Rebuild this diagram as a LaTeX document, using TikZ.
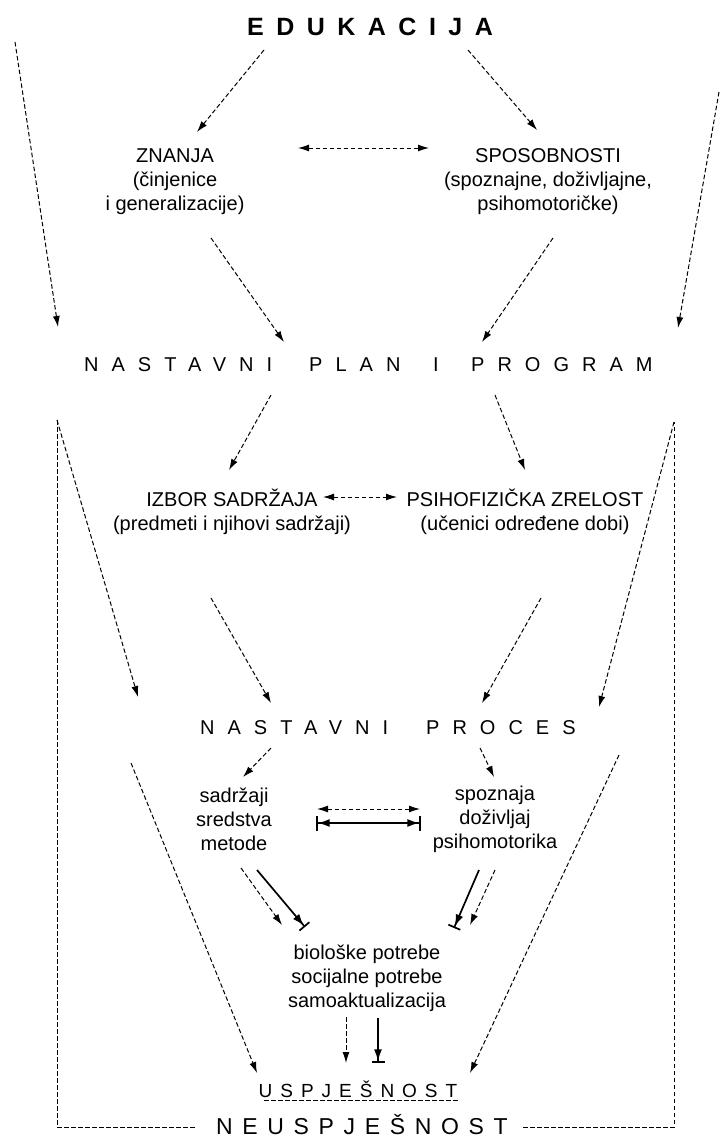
\documentclass[tikz,border=0pt]{standalone}
\usepackage{fontspec}
\setmainfont{Liberation Sans}
\usetikzlibrary{arrows.meta}

\newcommand{\spacedby}[1]{\addfontfeatures{LetterSpace=#1}}

\begin{document}
\begin{tikzpicture}[
  x=1pt,y=-1pt,
  every node/.style={font=\fontsize{20}{24}\selectfont,inner sep=0pt},
  txt/.style={align=center},
  head/.style={font=\fontsize{25}{30}\selectfont\bfseries\spacedby{50}},
  stage/.style={anchor=west,font=\fontsize{20}{24}\selectfont\spacedby{65}},
  result/.style={font=\fontsize{19}{24}\selectfont\spacedby{42}},
  dline/.style={line width=1pt,dash pattern=on 4.5pt off 2.5pt},
  dar/.style={dline,-{Latex[length=11pt,width=7pt]}},
  ddar/.style={dline,{Latex[length=11pt,width=7pt]}-{Latex[length=11pt,width=7pt]}},
  sar/.style={line width=1.7pt,-{Latex[length=12pt,width=8pt]Bar[width=13pt]}},
  dsar/.style={line width=1.7pt,
    {Bar[width=15pt]Latex[length=12pt,width=8pt]}-{Latex[length=12pt,width=8pt]Bar[width=15pt]}}]
  \path[use as bounding box] (0,0) rectangle (721,1138);

  % Texts.
  \node[head] (edu) at (370,27) {EDUKACIJA};
  \node[txt] (zn) at (175,182) {ZNANJA\\(činjenice\\i generalizacije)};
  \node[txt] (sp) at (548,182) {SPOSOBNOSTI\\(spoznajne, doživljajne,\\psihomotoričke)};
  \node[stage] (plan1) at (84,365) {NASTAVNI};
  \node[stage] (plan2) at (309,365) {PLAN};
  \node[stage] (plan3) at (433,365) {I};
  \node[stage] (plan4) at (471,365) {PROGRAM};
  \node[txt] (izbor) at (232,512) {IZBOR SADRŽAJA\\(predmeti i njihovi sadržaji)};
  \node[txt] (psiho) at (525,512) {PSIHOFIZIČKA ZRELOST\\(učenici određene dobi)};
  \node[stage] (proc1) at (200,728) {NASTAVNI};
  \node[stage] (proc2) at (426,728) {PROCES};
  \node[txt] (sad) at (234,819) {sadržaji\\sredstva\\metode};
  \node[txt] (spo) at (495,819) {spoznaja\\doživljaj\\psihomotorika};
  \node[txt] (potr) at (367,978) {biološke potrebe\\socijalne potrebe\\samoaktualizacija};
  \node[result] (usp) at (358,1089) {USPJEŠNOST};
  \node[result,font=\fontsize{23}{28}\selectfont\spacedby{42}] (neu) at (362,1125)
    {NEUSPJEŠNOST};

  % Arrow ends.
  \foreach \n/\a/\b in {fl1/15/42, fl2/58/327, fr1/719/92, fr2/678/328,
      ez1/264/50, ez2/197/132, es1/468/50, es2/537/130,
      zs1/298/148, zs2/429/148, zp1/211/238, zp2/284/342,
      sp1/553/238, sp2/482/342, pi1/271/395, pi2/229/470,
      pp1/495/395, pp2/525/470, ip1/323/497, ip2/397/497,
      ir1/211/598, ir2/271/703, pr1/541/598, pr2/482/703,
      fL/57/420, fLb/57/1127, nL/197/1127, fR/674/422, fRb/674/1127, nR/523/1127,
      dl/138/697, dr/599/707, cs1/271/748, cs2/243/777, cz1/480/748, cz2/494/777,
      ol1/131/763, ol2/257/1073, or1/619/755, or2/470/1073,
      md1/317/809, md2/420/809, ms1/316/823, ms2/421/823,
      ld1/241/868, ld2/282/925, ls1/257/870, ls2/305/927,
      rs1/479/870, rs2/454/928, rd1/495/870, rd2/470/925,
      bd1/346/1017, bd2/346/1063, bs1/378/1018, bs2/378/1063,
      u1/264/1100, u2/459/1100}
    \coordinate (\n) at (\a,\b);

  % Upper part.
  \draw[dar] (fl1) -- (fl2);
  \draw[dar] (fr1) -- (fr2);
  \draw[dar] (ez1) -- (ez2);
  \draw[dar] (es1) -- (es2);
  \draw[ddar] (zs1) -- (zs2);
  \draw[dar] (zp1) -- (zp2);
  \draw[dar] (sp1) -- (sp2);

  % Middle part.
  \draw[dar] (pi1) -- (pi2);
  \draw[dar] (pp1) -- (pp2);
  \draw[ddar] (ip1) -- (ip2);
  \draw[dar] (ir1) -- (ir2);
  \draw[dar] (pr1) -- (pr2);
  \draw[dline] (fL) -- (fLb) -- (nL);
  \draw[dline] (nR) -- (fRb) -- (fR);
  \draw[dar] (fL) -- (dl);
  \draw[dar] (fR) -- (dr);

  % Lower part.
  \draw[dar] (cs1) -- (cs2);
  \draw[dar] (cz1) -- (cz2);
  \draw[dar] (ol1) -- (ol2);
  \draw[dar] (or1) -- (or2);
  \draw[ddar] (md1) -- (md2);
  \draw[dsar] (ms1) -- (ms2);
  \draw[dar] (ld1) -- (ld2);
  \draw[sar] (ls1) -- (ls2);
  \draw[sar] (rs1) -- (rs2);
  \draw[dar] (rd1) -- (rd2);
  \draw[dar] (bd1) -- (bd2);
  \draw[sar] (bs1) -- (bs2);
  \draw[dline] (u1) -- (u2);
\end{tikzpicture}
\end{document}
